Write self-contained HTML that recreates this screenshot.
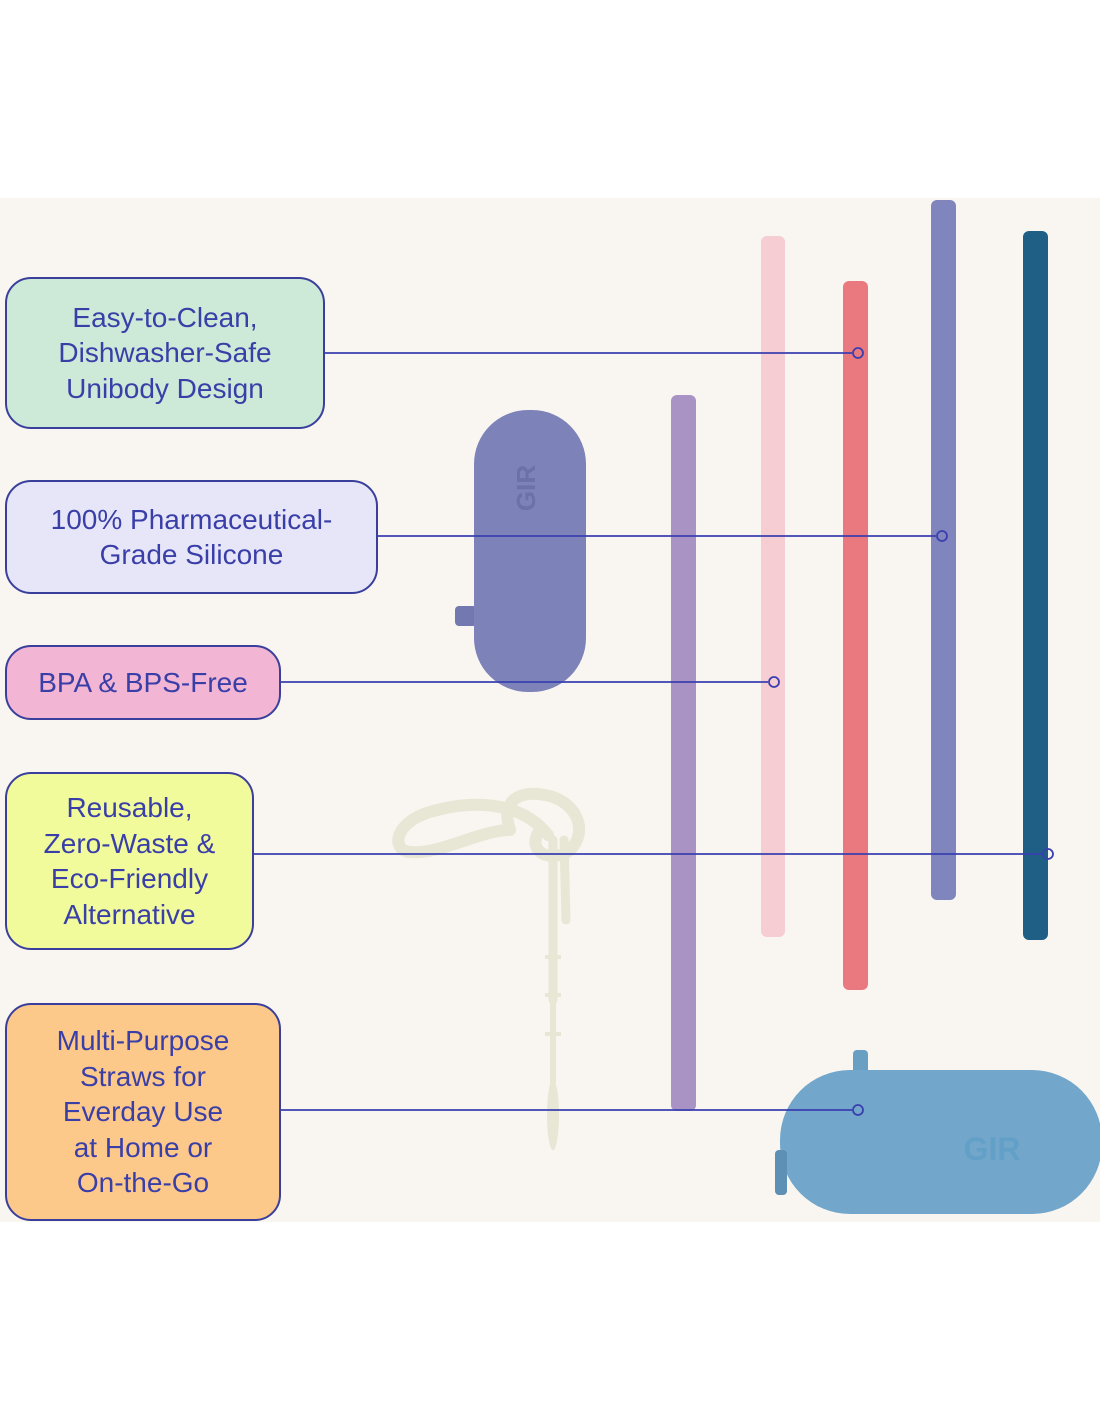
<!DOCTYPE html>
<html><head><meta charset="utf-8"><style>
body{margin:0;width:1100px;height:1422px;background:#fff;position:relative;overflow:hidden;font-family:"Liberation Sans",sans-serif}
.bg{position:absolute;left:0;top:198px;width:1100px;height:1024px;background:#f9f6f1}
.box{position:absolute;border:2px solid #3a3f9c;border-radius:26px;color:#3a3fa8;font-size:28px;line-height:35.5px;text-align:center;display:flex;align-items:center;justify-content:center;box-sizing:border-box}
</style></head><body>
<div class="bg"></div>
<svg style="position:absolute;left:0;top:0" width="1100" height="1422">
<rect x="455" y="606" width="22" height="20" rx="4" fill="#7478b0"/>
<rect x="474" y="410" width="112" height="282" rx="54" fill="#7d82b8"/>
<text x="535" y="488" transform="rotate(-90 535 488)" font-family="Liberation Sans" font-size="26" font-weight="bold" fill="#6d71a8" text-anchor="middle">GIR</text>
<rect x="671" y="395" width="25" height="716" rx="6" fill="#a893c4"/>
<rect x="761" y="236" width="24" height="701" rx="6" fill="#f5cdd3"/>
<rect x="843" y="281" width="25" height="709" rx="6" fill="#e9787f"/>
<rect x="931" y="200" width="25" height="700" rx="6" fill="#8185bd"/>
<rect x="1023" y="231" width="25" height="709" rx="6" fill="#1f5f85"/>
<g fill="none" stroke="#e8e6d4" stroke-linecap="round">
<path d="M548 835 C520 800 470 800 430 812 C395 822 390 850 410 852 C440 855 480 830 510 830" stroke-width="12"/>
<path d="M510 830 C500 800 520 790 545 795 C575 800 590 830 570 850 C550 865 525 850 540 830" stroke-width="12"/>
<path d="M553 840 L553 1000" stroke-width="9"/>
<path d="M564 840 L566 920" stroke-width="9"/>
<path d="M553 1000 L553 1145" stroke-width="6"/>
</g>
<g fill="#e8e6d4"><rect x="545" y="955" width="16" height="4"/><rect x="545" y="993" width="16" height="4"/><rect x="545" y="1032" width="16" height="4"/><ellipse cx="553" cy="1115" rx="6" ry="35"/></g>
<rect x="853" y="1050" width="15" height="30" rx="4" fill="#6a9fc4"/>
<rect x="780" y="1070" width="322" height="144" rx="70" fill="#72a6ca"/>
<rect x="775" y="1150" width="12" height="45" rx="4" fill="#5d90b4"/>
<text x="992" y="1160" font-family="Liberation Sans" font-size="32" font-weight="bold" fill="#62a0c8" text-anchor="middle">GIR</text>
<g stroke="#3a3fb0" stroke-width="1.8" fill="none">
<line x1="324" y1="353" x2="852" y2="353"/><circle cx="858" cy="353" r="5"/>
<line x1="377" y1="536" x2="936" y2="536"/><circle cx="942" cy="536" r="5"/>
<line x1="280" y1="682" x2="768" y2="682"/><circle cx="774" cy="682" r="5"/>
<line x1="253" y1="854" x2="1043" y2="854"/><circle cx="1048" cy="854" r="5"/>
<line x1="280" y1="1110" x2="852" y2="1110"/><circle cx="858" cy="1110" r="5"/>
</g>
</svg>
<div class="box" style="left:5px;top:277px;width:320px;height:152px;background:#cde9d8">Easy-to-Clean,<br>Dishwasher-Safe<br>Unibody Design</div>
<div class="box" style="left:5px;top:480px;width:373px;height:114px;background:#e7e6f8">100% Pharmaceutical-<br>Grade Silicone</div>
<div class="box" style="left:5px;top:645px;width:276px;height:75px;background:#f2b6d4">BPA &amp; BPS-Free</div>
<div class="box" style="left:5px;top:772px;width:249px;height:178px;background:#f2fb9c">Reusable,<br>Zero-Waste &amp;<br>Eco-Friendly<br>Alternative</div>
<div class="box" style="left:5px;top:1003px;width:276px;height:218px;background:#fdc98a">Multi-Purpose<br>Straws for<br>Everday Use<br>at Home or<br>On-the-Go</div>
</body></html>
